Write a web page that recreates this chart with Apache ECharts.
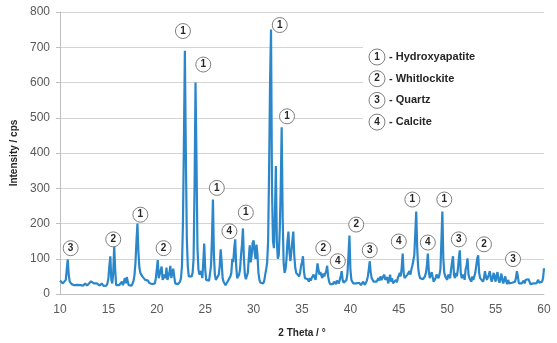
<!DOCTYPE html>
<html>
<head>
<meta charset="utf-8">
<script src="https://cdn.jsdelivr.net/npm/echarts@6/dist/echarts.min.js"></script>
<style>
html,body{margin:0;padding:0;background:#fff;}
#chart{width:557px;height:343px;}
</style>
</head>
<body>
<div id="chart"></div>
<script>
// 2θ from 10.0 to 60.0 in 0.1° steps
const thetaStart = 10.0;
const thetaStep = 0.1;
const intensity = [
  38,35,33,30,32,34,40,70,98,55,
  35,30,28,32,27,25,30,28,26,24,
  28,25,22,27,24,28,30,26,24,28,
  30,34,36,40,35,30,27,25,30,28,
  26,24,27,30,25,23,26,28,24,30,
  45,80,107,40,30,60,135,70,25,20,
  22,25,20,28,35,25,30,45,30,48,
  35,25,22,28,24,30,38,55,90,150,
  200,120,75,60,65,50,55,45,40,35,
  40,38,32,35,30,28,26,24,30,45,
  70,96,45,40,50,78,40,35,55,45,
  75,40,35,60,80,45,40,72,50,30,
  30,25,28,24,35,45,80,200,430,690,
  400,160,80,50,45,55,50,60,100,300,
  600,380,130,70,55,50,65,45,90,143,
  70,40,35,45,38,40,80,160,268,110,
  55,40,35,42,55,80,127,90,45,35,
  30,25,23,35,40,32,50,60,100,90,
  130,155,80,45,40,55,70,110,140,186,
  100,55,42,40,60,100,138,90,110,145,
  152,120,100,140,110,60,40,32,30,35,
  30,38,55,70,90,150,350,600,750,300,
  150,130,220,363,150,100,110,180,300,473,
  220,90,60,70,100,150,177,120,93,120,
  150,177,110,75,60,55,62,50,60,80,
  90,107,65,45,40,50,42,35,45,38,
  45,40,55,48,40,60,87,70,55,62,
  52,45,58,50,55,65,80,50,35,28,
  25,32,28,35,30,28,38,33,30,40,
  50,65,40,32,35,30,40,60,110,166,
  70,40,35,30,28,35,30,25,28,32,
  30,25,28,35,30,26,30,38,50,70,
  93,60,45,40,35,30,40,35,30,45,
  38,50,40,35,45,55,40,35,48,30,
  40,55,35,45,30,28,35,40,33,45,
  45,60,50,75,115,60,45,40,50,55,
  50,65,55,70,80,75,110,170,234,130,
  75,55,45,40,50,42,38,50,60,80,
  115,65,45,40,62,48,35,40,45,55,
  50,45,55,70,150,234,100,60,50,45,
  40,55,50,45,70,90,107,55,45,60,
  50,70,100,124,60,45,50,55,40,70,
  80,101,55,45,40,35,50,40,38,60,
  80,100,110,60,45,50,40,35,45,65,
  50,40,35,55,65,45,35,40,60,45,
  35,55,62,40,32,45,58,38,30,42,
  50,35,28,40,30,25,28,32,30,35,
  35,45,65,50,30,28,25,30,35,38,
  30,40,45,35,42,38,28,30,25,30,
  28,25,30,35,40,32,28,35,35,45,
  73
];

// peak annotations: position (2θ, intensity) and phase number
const markTheta = [11.1, 15.5, 18.3, 20.7, 22.7, 24.8, 26.2, 27.5, 29.2, 32.7, 33.45, 37.2, 38.7, 40.6, 42.0, 45.0, 46.4, 48.0, 49.7, 51.2, 53.8, 56.8];
const markIntensity = [130, 155, 225, 130, 746, 651, 301, 178, 231, 763, 504, 130, 93, 197, 124, 149, 268, 146, 268, 155, 141, 99];
const markPhase = [3, 2, 1, 2, 1, 1, 1, 4, 1, 1, 1, 2, 4, 2, 3, 4, 1, 4, 1, 3, 2, 3];

const phaseNumbers = ['1', '2', '3', '4'];
const phaseNames = ['Hydroxyapatite', 'Whitlockite', 'Quartz', 'Calcite'];

const xTicks = [10, 15, 20, 25, 30, 35, 40, 45, 50, 55, 60];
const yTicks = [0, 100, 200, 300, 400, 500, 600, 700, 800];

const lineData = intensity.map((v, i) => [+(thetaStart + i * thetaStep).toFixed(1), v]);
const markData = markTheta.map((t, i) => [t, markIntensity[i], markPhase[i]]);

const chart = echarts.init(document.getElementById('chart'), null, {renderer: 'canvas'});

const legendGraphics = [{
  type: 'rect',
  shape: {x: 363, y: 22, width: 190, height: 124},
  style: {fill: '#ffffff'},
  z: 5
}];
const legendTop = 57, legendGap = 21.7;
phaseNames.forEach((name, i) => {
  const cy = legendTop + i * legendGap;
  legendGraphics.push({
    type: 'circle',
    shape: {cx: 377, cy: cy, r: 8},
    style: {fill: '#fff', stroke: '#7f7f7f', lineWidth: 1},
    z: 6
  });
  legendGraphics.push({
    type: 'text',
    x: 377, y: cy,
    style: {text: phaseNumbers[i], fill: '#262626', font: 'bold 10px "Liberation Sans", Arial, sans-serif', align: 'center', verticalAlign: 'middle'},
    z: 7
  });
  legendGraphics.push({
    type: 'text',
    x: 389, y: cy,
    style: {text: '- ' + name, fill: '#262626', font: 'bold 11px "Liberation Sans", Arial, sans-serif', align: 'left', verticalAlign: 'middle'},
    z: 7
  });
});

chart.setOption({
  animation: false,
  backgroundColor: '#fff',
  grid: {left: 60, right: 13, top: 12, bottom: 47, containLabel: false},
  xAxis: {
    type: 'value', min: xTicks[0], max: xTicks[xTicks.length - 1], interval: 5,
    name: '2 Theta / °', nameLocation: 'middle', nameGap: 34,
    nameTextStyle: {fontSize: 10, fontWeight: 'bold', color: '#262626', fontFamily: '"Liberation Sans", Arial, sans-serif'},
    axisLine: {show: true, lineStyle: {color: '#bfbfbf', width: 1}},
    axisTick: {show: false},
    splitLine: {show: false},
    axisLabel: {fontSize: 12, color: '#595959', margin: 10, fontFamily: '"Liberation Sans", Arial, sans-serif'}
  },
  yAxis: {
    type: 'value', min: yTicks[0], max: yTicks[yTicks.length - 1], interval: 100,
    name: 'Intensity / cps', nameLocation: 'middle', nameGap: 38,
    nameTextStyle: {fontSize: 10, fontWeight: 'bold', color: '#262626', fontFamily: '"Liberation Sans", Arial, sans-serif'},
    axisLine: {show: true, lineStyle: {color: '#bfbfbf', width: 1}},
    axisTick: {show: true, length: 4, lineStyle: {color: '#bfbfbf'}},
    splitLine: {show: true, lineStyle: {color: '#d4d4d4', width: 1}},
    axisLabel: {fontSize: 12, color: '#595959', margin: 10, fontFamily: '"Liberation Sans", Arial, sans-serif'}
  },
  graphic: legendGraphics,
  series: [
    {
      type: 'line',
      data: lineData,
      showSymbol: false,
      symbol: 'none',
      lineStyle: {color: '#2b87c9', width: 2.2},
      z: 2
    },
    {
      type: 'scatter',
      data: markData,
      symbol: 'circle',
      symbolSize: 15,
      itemStyle: {color: '#ffffff', borderColor: '#7f7f7f', borderWidth: 1, opacity: 1},
      label: {
        show: true, position: 'inside',
        formatter: p => String(p.value[2]),
        fontSize: 10, fontWeight: 'bold', color: '#262626',
        fontFamily: '"Liberation Sans", Arial, sans-serif'
      },
      z: 4
    }
  ]
});
</script>
</body>
</html>
